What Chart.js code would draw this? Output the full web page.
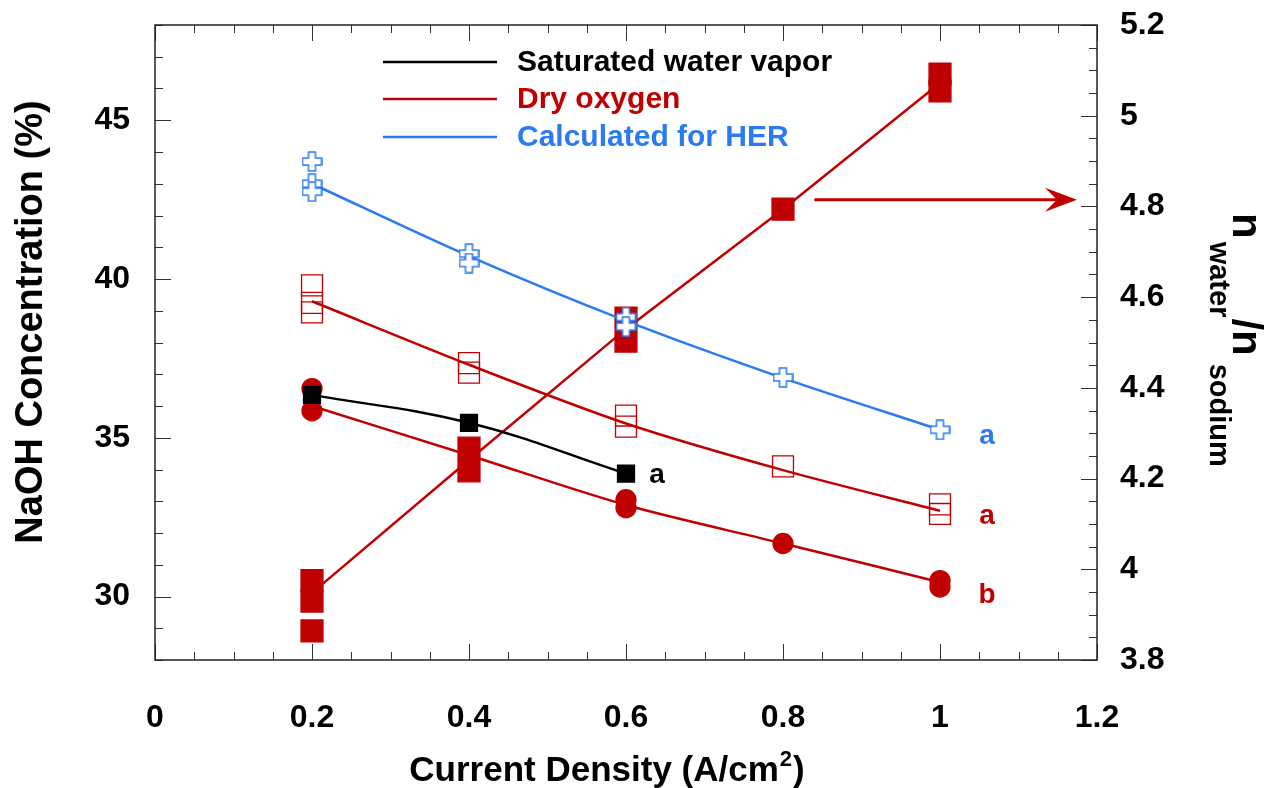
<!DOCTYPE html>
<html>
<head>
<meta charset="utf-8">
<title>NaOH concentration vs current density</title>
<script src="https://cdn.jsdelivr.net/npm/chart.js@4.4.1/dist/chart.umd.min.js"></script>
<style>
  html, body { margin: 0; padding: 0; background: #fff; }
</style>
</head>
<body>
<canvas id="myChart" width="1276" height="788"></canvas>
<script>
const FONT = "'Liberation Sans', Arial, Helvetica, sans-serif";
const RED = "#c00000";
const BLUE = "#2a7af2";
const BLACK = "#000000";

// axis ticks
const xTicks = [0, 0.2, 0.4, 0.6, 0.8, 1, 1.2];
const concTicks = [30, 35, 40, 45];
const ratioTicks = [3.8, 4, 4.2, 4.4, 4.6, 4.8, 5, 5.2];

// x positions of the fitted curves
const currentDensity = [0.2, 0.4, 0.6, 0.8, 1.0];

// calculated for HER (open crosses), NaOH %
const herX = [0.2, 0.2, 0.2, 0.4, 0.4, 0.6, 0.6, 0.8, 1.0];
const herConc = [43.7, 43.0, 42.75, 40.8, 40.5, 38.8, 38.5, 36.9, 35.25];
const herFit = [43.0, 40.72, 38.68, 36.88, 35.25];

// dry oxygen (open squares), NaOH %
const dryX = [0.2, 0.2, 0.2, 0.4, 0.4, 0.6, 0.6, 0.8, 1.0, 1.0];
const dryConc = [39.8, 39.25, 38.95, 37.35, 37.05, 35.7, 35.35, 34.1, 32.9, 32.6];
const dryFit = [39.3, 37.3, 35.45, 33.98, 32.7];

// saturated water vapor (black squares), NaOH %
const satX = [0.2, 0.4, 0.6];
const satConc = [36.35, 35.47, 33.87];

// dry oxygen (filled circles), NaOH %
const circX = [0.2, 0.2, 0.4, 0.6, 0.6, 0.8, 1.0, 1.0];
const circConc = [36.55, 35.85, 34.45, 33.05, 32.8, 31.67, 30.5, 30.3];
const circFit = [36.0, 34.45, 32.88, 31.67, 30.45];

// dry oxygen (filled squares), n_water / n_sodium
const ratioX = [0.2, 0.2, 0.2, 0.4, 0.4, 0.6, 0.6, 0.8, 1.0, 1.0];
const ratio = [3.975, 3.93, 3.864, 4.267, 4.217, 4.554, 4.503, 4.794, 5.092, 5.055];
const ratioFit = [3.948, 4.241, 4.53, 4.794, 5.072];

const legendNames = ["Saturated water vapor", "Dry oxygen", "Calculated for HER"];
const legendColors = [BLACK, RED, BLUE];

// letters next to the last point of each curve
const noteText = ["a", "a", "a", "b"];
const noteColor = [BLACK, BLUE, RED, RED];
const noteX = [0.6395, 1.06, 1.06, 1.06];
const noteY = [33.83, 35.05, 32.52, 30.03];

// arrow pointing to the right-hand axis
const arrowFrom = 0.84;
const arrowTo = 1.1745;
const arrowLevel = 4.815;

function pts(xs, ys) {
  return xs.map((x, i) => ({ x, y: ys[i] }));
}

function hollowPlus(size, arm, color) {
  const c = document.createElement("canvas");
  c.width = size;
  c.height = size;
  const g = c.getContext("2d");
  const m = size / 2, h = arm / 2, p = 1, s = size;
  g.beginPath();
  g.moveTo(m - h, p);
  g.lineTo(m + h, p);
  g.lineTo(m + h, m - h);
  g.lineTo(s - p, m - h);
  g.lineTo(s - p, m + h);
  g.lineTo(m + h, m + h);
  g.lineTo(m + h, s - p);
  g.lineTo(m - h, s - p);
  g.lineTo(m - h, m + h);
  g.lineTo(p, m + h);
  g.lineTo(p, m - h);
  g.lineTo(m - h, m - h);
  g.closePath();
  g.fillStyle = "#fff";
  g.fill();
  g.lineWidth = 1.5;
  g.strokeStyle = color;
  g.stroke();
  return c;
}

function markers(data, style, radius, fill, border, axis, order) {
  return {
    data,
    yAxisID: axis,
    showLine: false,
    pointStyle: style,
    pointRadius: radius,
    backgroundColor: fill,
    borderColor: border,
    pointBorderWidth: 1.3,
    order,
  };
}

function curve(data, color, axis, order, tension) {
  return {
    data,
    yAxisID: axis,
    showLine: true,
    borderColor: color,
    borderWidth: 2.5,
    pointRadius: 0,
    tension: tension || 0,
    order,
  };
}

// fixed axis sizes so the plot box lands where we want it
function fixSize(w, h) {
  return (s) => {
    if (w !== null) s.width = w;
    if (h !== null) s.height = h;
    s.paddingTop = 0;
    s.paddingBottom = 0;
    s.paddingLeft = 0;
    s.paddingRight = 0;
  };
}

const framePlugin = {
  id: "frame",
  afterDatasetsDraw(chart) {
    const { ctx, chartArea: a, scales } = chart;
    const sx = scales.x, sy = scales.y, sr = scales.y1;
    ctx.save();

    // inward tick marks on all four sides
    ctx.strokeStyle = "#333";
    ctx.lineWidth = 1;
    const line = (x1, y1, x2, y2) => {
      ctx.beginPath();
      ctx.moveTo(x1, y1);
      ctx.lineTo(x2, y2);
      ctx.stroke();
    };
    for (let i = 0; i <= 24; i++) {
      const px = Math.round(sx.getPixelForValue(i * 0.05)) + 0.5;
      const len = i % 4 === 0 ? 16 : 8;
      line(px, a.bottom, px, a.bottom - len);
      line(px, a.top, px, a.top + len);
    }
    for (let v = 28; v <= 48; v++) {
      const py = Math.round(sy.getPixelForValue(v)) + 0.5;
      line(a.left, py, a.left + (v % 5 === 0 ? 16 : 8), py);
    }
    for (let i = 0; i <= 28; i++) {
      const py = Math.round(sr.getPixelForValue(3.8 + i * 0.05)) + 0.5;
      line(a.right, py, a.right - (i % 4 === 0 ? 16 : 8), py);
    }

    ctx.strokeStyle = "#222";
    ctx.lineWidth = 1.5;
    ctx.strokeRect(a.left, a.top, a.right - a.left, a.bottom - a.top);

    // legend
    ctx.font = "bold 30px " + FONT;
    ctx.textBaseline = "middle";
    ctx.textAlign = "left";
    const legendY = [62, 99, 137];
    legendNames.forEach((name, i) => {
      ctx.strokeStyle = legendColors[i];
      ctx.lineWidth = 2.6;
      line(383, legendY[i], 497, legendY[i]);
      ctx.fillStyle = legendColors[i];
      ctx.fillText(name, 517, legendY[i] + 1);
    });

    // curve letters
    ctx.font = "bold 28px " + FONT;
    ctx.textAlign = "center";
    noteText.forEach((t, i) => {
      ctx.fillStyle = noteColor[i];
      ctx.fillText(t, sx.getPixelForValue(noteX[i]), sy.getPixelForValue(noteY[i]));
    });

    // arrow to the right axis
    const ay = sr.getPixelForValue(arrowLevel);
    const x0 = sx.getPixelForValue(arrowFrom);
    const tip = sx.getPixelForValue(arrowTo);
    ctx.strokeStyle = RED;
    ctx.fillStyle = RED;
    ctx.lineWidth = 3;
    line(x0, ay, tip - 20, ay);
    ctx.beginPath();
    ctx.moveTo(tip, ay);
    ctx.lineTo(tip - 32, ay - 12);
    ctx.lineTo(tip - 20, ay);
    ctx.lineTo(tip - 32, ay + 12);
    ctx.closePath();
    ctx.fill();

    // x axis title with superscript
    ctx.fillStyle = BLACK;
    ctx.textAlign = "left";
    ctx.textBaseline = "alphabetic";
    const titleFont = "bold 35px " + FONT;
    const supFont = "bold 22px " + FONT;
    ctx.font = titleFont;
    const head = "Current Density (A/cm";
    const wHead = ctx.measureText(head).width;
    const wTail = ctx.measureText(")").width;
    ctx.font = supFont;
    const wSup = ctx.measureText("2").width;
    let tx = 607 - (wHead + wSup + wTail + 2) / 2;
    ctx.font = titleFont;
    ctx.fillText(head, tx, 781);
    tx += wHead + 1;
    ctx.font = supFont;
    ctx.fillText("2", tx, 766);
    tx += wSup + 1;
    ctx.font = titleFont;
    ctx.fillText(")", tx, 781);

    // left axis title
    ctx.save();
    ctx.translate(42, 322);
    ctx.rotate(-Math.PI / 2);
    ctx.textAlign = "center";
    ctx.font = "bold 38px " + FONT;
    ctx.fillText("NaOH Concentration (%)", 0, 0);
    ctx.restore();

    // right axis title: n_water / n_sodium, read top to bottom
    ctx.translate(1233, 213);
    ctx.rotate(Math.PI / 2);
    const big = "bold 42px " + FONT;
    const small = "bold 29px " + FONT;
    let cx = 0;
    ctx.font = big;
    ctx.fillText("n", cx, 0);
    cx += ctx.measureText("n").width + 3;
    ctx.font = small;
    ctx.fillText("water", cx, 23);
    cx += ctx.measureText("water").width + 1;
    ctx.font = big;
    ctx.fillText("/n", cx, 0);
    cx += ctx.measureText("/n").width + 8;
    ctx.font = small;
    ctx.fillText("sodium", cx, 23);

    ctx.restore();
  },
};

const tickFont = { family: FONT, size: 32, weight: "bold" };
const numLabel = (v) => String(+Number(v).toFixed(1));

const ctx = document.getElementById("myChart");
window.chart = new Chart(ctx, {
  type: "scatter",
  data: {
    datasets: [
      markers(pts(herX, herConc), hollowPlus(21, 7, BLUE), 10, "#fff", BLUE, "y", 1),
      curve(pts(currentDensity, herFit), BLUE, "y", 2, 0.3),
      markers(pts(dryX, dryConc), "rect", 14.8, "rgba(0,0,0,0)", RED, "y", 3),
      curve(pts(currentDensity, dryFit), RED, "y", 4, 0.3),
      markers(pts(satX, satConc), "rect", 12, BLACK, BLACK, "y", 5),
      curve(pts(satX, satConc), BLACK, "y", 6, 0.4),
      markers(pts(ratioX, ratio), "rect", 15.5, RED, RED, "y1", 7),
      curve(pts(currentDensity, ratioFit), RED, "y1", 8, 0),
      markers(pts(circX, circConc), "circle", 10, RED, RED, "y", 9),
      curve(pts(currentDensity, circFit), RED, "y", 10, 0.3),
    ],
  },
  options: {
    responsive: false,
    animation: false,
    events: [],
    layout: { padding: { top: 25, left: 0, right: 0, bottom: 0 } },
    plugins: {
      legend: { display: false },
      tooltip: { enabled: false },
    },
    scales: {
      x: {
        type: "linear",
        position: "bottom",
        min: 0,
        max: 1.2,
        afterBuildTicks: (s) => { s.ticks = xTicks.map((v) => ({ value: v })); },
        afterFit: fixSize(null, 128),
        grid: { display: false, drawTicks: false },
        border: { display: false },
        ticks: { font: tickFont, color: BLACK, padding: 39, maxRotation: 0, autoSkip: false, callback: numLabel },
      },
      y: {
        type: "linear",
        position: "left",
        min: 28,
        max: 48,
        afterBuildTicks: (s) => { s.ticks = concTicks.map((v) => ({ value: v })); },
        afterFit: fixSize(155, null),
        grid: { display: false, drawTicks: false },
        border: { display: false },
        ticks: { font: tickFont, color: BLACK, padding: 25, callback: numLabel },
      },
      y1: {
        type: "linear",
        position: "right",
        min: 3.8,
        max: 5.2,
        afterBuildTicks: (s) => { s.ticks = ratioTicks.map((v) => ({ value: v })); },
        afterFit: fixSize(179, null),
        grid: { display: false, drawTicks: false },
        border: { display: false },
        ticks: { font: tickFont, color: BLACK, padding: 23, callback: numLabel },
      },
    },
  },
  plugins: [framePlugin],
});
</script>
</body>
</html>
